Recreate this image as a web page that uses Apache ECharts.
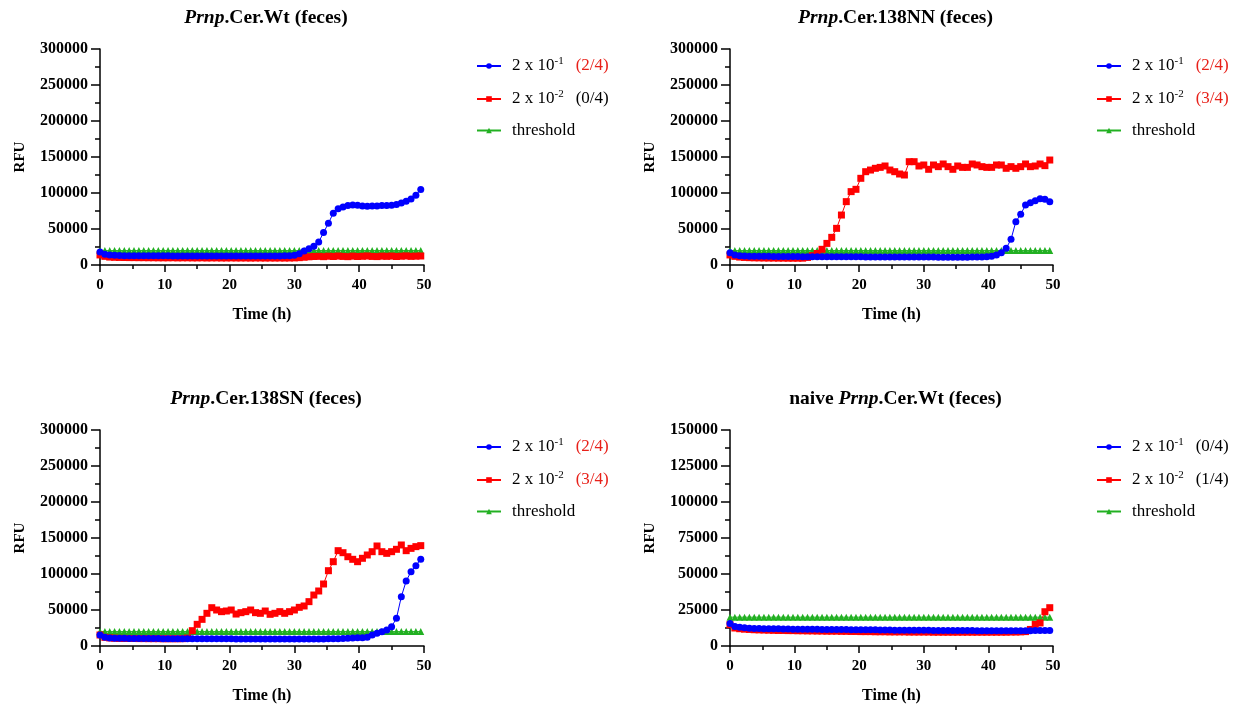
<!DOCTYPE html>
<html>
<head>
<meta charset="utf-8">
<script src="https://cdn.jsdelivr.net/npm/echarts@6/dist/echarts.min.js"></script>
<style>
  html, body { margin: 0; padding: 0; background: #fff; }
  #chart { width: 1252px; height: 708px; }
</style>
</head>
<body>
<div id="chart"></div>
<script>
// time of each reading (h), every 45 min
var times = [0, 0.75, 1.5, 2.25, 3, 3.75, 4.5, 5.25, 6, 6.75, 7.5, 8.25, 9, 9.75, 10.5, 11.25, 12, 12.75, 13.5, 14.25,
    15, 15.75, 16.5, 17.25, 18, 18.75, 19.5, 20.25, 21, 21.75, 22.5, 23.25, 24, 24.75, 25.5, 26.25, 27, 27.75, 28.5, 29.25,
    30, 30.75, 31.5, 32.25, 33, 33.75, 34.5, 35.25, 36, 36.75, 37.5, 38.25, 39, 39.75, 40.5, 41.25, 42, 42.75, 43.5, 44.25,
    45, 45.75, 46.5, 47.25, 48, 48.75, 49.5];

// Prnp.Cer.Wt
var wtBlue = [18000, 15000, 14000, 13500, 13200, 13000, 13000, 12900, 12900, 12800,
    12800, 12800, 12700, 12700, 12700, 12600, 12600, 12600, 12600, 12500,
    12500, 12500, 12500, 12500, 12400, 12400, 12400, 12400, 12400, 12400,
    12400, 12400, 12400, 12400, 12500, 12500, 12500, 12600, 12700, 12900,
    13500, 15500, 19400, 22700, 26000, 32000, 45000, 58000, 72000, 78000,
    80500, 82500, 83500, 83000, 82000, 81500, 82000, 82000, 82500, 82500,
    83000, 84000, 86000, 88500, 91500, 97000, 105000];
var wtRed = [14000, 12000, 11000, 10700, 10500, 10400, 10300, 10300, 10200, 10200,
    10100, 10100, 10000, 10000, 10000, 10100, 9900, 10000, 10000, 9900,
    9900, 10000, 9800, 9900, 9900, 9800, 9800, 9900, 9800, 9800,
    9800, 9700, 9800, 9800, 9700, 9800, 9700, 9800, 9700, 9800,
    9900, 10200, 10800, 11400, 11800, 12000, 11600, 12200, 11800, 12400,
    11900, 11600, 12300, 11800, 12100, 12500, 11900, 11700, 12300, 12000,
    12400, 11800, 12200, 12600, 12000, 12300, 12500];

// Prnp.Cer.138NN
var nnBlue = [17100, 13900, 12800, 12500, 12300, 12200, 12100, 12000, 12000, 11900,
    11900, 11800, 11800, 11700, 11700, 11600, 11600, 11600, 11500, 11500,
    11500, 11400, 11400, 11400, 11300, 11300, 11300, 11300, 11200, 11200,
    11200, 11200, 11200, 11100, 11100, 11100, 11100, 11000, 11000, 11000,
    11000, 11000, 11000, 10900, 10900, 10900, 10900, 10900, 10900, 10900,
    11000, 11000, 11100, 11400, 12000, 13900, 17100, 23100, 35600, 60200,
    70400, 83300, 86600, 89400, 92100, 91200, 88000];
var nnRed = [14000, 12000, 11000, 10500, 10200, 10000, 9900, 9800, 9700, 9700,
    9600, 9600, 9500, 9500, 9500, 9500, 10500, 13000, 16000, 21800,
    30000, 38400, 50900, 69400, 88000, 101900, 105100, 120400, 129600, 131900,
    134300, 135600, 137500, 131900, 129600, 126400, 125000, 143500, 143500, 137500,
    138900, 132900, 138900, 136600, 140300, 136600, 132900, 137500, 135600, 135600,
    140300, 138900, 136600, 135600, 135600, 138900, 138900, 134300, 136600, 134300,
    136600, 140300, 136600, 137500, 140300, 138000, 145800];

// Prnp.Cer.138SN
var snBlue = [15300, 12000, 11200, 10900, 10700, 10600, 10500, 10500, 10400, 10400,
    10300, 10300, 10300, 10200, 10200, 10200, 10100, 10100, 10100, 10000,
    10000, 10000, 10000, 9900, 9900, 9900, 9900, 9900, 9800, 9800,
    9800, 9800, 9800, 9800, 9800, 9700, 9700, 9700, 9700, 9700,
    9700, 9700, 9700, 9700, 9700, 9800, 9800, 9900, 10000, 10200,
    10400, 10700, 11000, 11300, 11600, 12000, 15300, 17600, 19900, 22200,
    26900, 38400, 68500, 90300, 103200, 111600, 120400];
var snRed = [15300, 12000, 11200, 10800, 10600, 10500, 10400, 10400, 10300, 10300,
    10200, 10200, 10200, 10100, 10100, 10100, 10100, 10200, 11000, 21300,
    30100, 37000, 45400, 53200, 50000, 47700, 48600, 50000, 44400, 46300,
    47700, 50000, 46300, 45400, 48600, 44000, 45400, 47700, 45400, 47700,
    50000, 53700, 55600, 61600, 70800, 76400, 86100, 104600, 117100, 132400,
    129600, 124000, 120400, 117100, 121800, 126400, 131000, 138900, 131000, 128700,
    131000, 134300, 140300, 132400, 135600, 138000, 139400];

// naive Prnp.Cer.Wt
var naiveBlue = [15700, 13500, 13000, 12600, 12300, 12200, 12100, 12000, 12000, 11900,
    11900, 11800, 11800, 11700, 11700, 11700, 11600, 11600, 11600, 11500,
    11500, 11500, 11400, 11400, 11400, 11300, 11300, 11300, 11200, 11200,
    11200, 11100, 11100, 11100, 11000, 11000, 11000, 11000, 10900, 10900,
    10900, 10900, 10800, 10800, 10800, 10800, 10700, 10700, 10700, 10700,
    10700, 10600, 10600, 10600, 10600, 10600, 10600, 10600, 10600, 10600,
    10600, 10600, 10600, 10700, 10700, 10700, 10700];
var naiveRed = [14800, 12500, 12000, 11700, 11500, 11300, 11200, 11100, 11000, 10900,
    10800, 10800, 10700, 10700, 10600, 10600, 10500, 10500, 10400, 10400,
    10300, 10300, 10300, 10200, 10200, 10100, 10100, 10000, 10000, 10000,
    9900, 9900, 9900, 9800, 9800, 9800, 9800, 9700, 9700, 9700,
    9700, 9700, 9600, 9600, 9600, 9600, 9600, 9600, 9600, 9600,
    9600, 9600, 9600, 9600, 9600, 9600, 9600, 9600, 9700, 9700,
    9800, 10000, 11500, 15000, 16000, 23800, 26600];

var threshold = [20000, 20000, 20000, 20000, 20000, 20000, 20000, 20000, 20000, 20000,
    20000, 20000, 20000, 20000, 20000, 20000, 20000, 20000, 20000, 20000,
    20000, 20000, 20000, 20000, 20000, 20000, 20000, 20000, 20000, 20000,
    20000, 20000, 20000, 20000, 20000, 20000, 20000, 20000, 20000, 20000,
    20000, 20000, 20000, 20000, 20000, 20000, 20000, 20000, 20000, 20000,
    20000, 20000, 20000, 20000, 20000, 20000, 20000, 20000, 20000, 20000,
    20000, 20000, 20000, 20000, 20000, 20000, 20000];

var panelTitles = [
    ['', 'Prnp', '.Cer.Wt (feces)'],
    ['', 'Prnp', '.Cer.138NN (feces)'],
    ['', 'Prnp', '.Cer.138SN (feces)'],
    ['naive ', 'Prnp', '.Cer.Wt (feces)']
];
var yMaxes = [300000, 300000, 300000, 150000];
var yIntervals = [50000, 50000, 50000, 25000];
// positive wells per dilution, red when positive
var wellCounts = [['(2/4)', '(0/4)'], ['(2/4)', '(3/4)'], ['(2/4)', '(3/4)'], ['(0/4)', '(1/4)']];
var wellPositive = [[true, false], [true, true], [true, true], [false, false]];

var blueData = [wtBlue, nnBlue, snBlue, naiveBlue];
var redData = [wtRed, nnRed, snRed, naiveRed];

var FONT = '"Liberation Serif", "Times New Roman", serif';
var grids = [
    {left: 100, top: 49, width: 324, height: 216},
    {left: 730, top: 49, width: 323, height: 216},
    {left: 100, top: 430, width: 324, height: 216},
    {left: 730, top: 430, width: 323, height: 216}
];
var legendPos = [[471, 51], [1091, 51], [471, 432], [1091, 432]];

function pairs(vals) {
    return times.map(function (t, i) { return [t, vals[i]]; });
}

var myChart = echarts.init(document.getElementById('chart'));
var option = {
    backgroundColor: '#fff',
    animation: false,
    title: [], grid: grids, xAxis: [], yAxis: [], legend: [], series: []
};
var labelMap = {};

for (var p = 0; p < 4; p++) {
    var g = grids[p];
    var tt = panelTitles[p];
    option.title.push({
        text: (tt[0] ? '{b|' + tt[0] + '}' : '') + '{i|' + tt[1] + '}{b|' + tt[2] + '}',
        left: g.left + g.width / 2 - 1, top: g.top - 46, textAlign: 'center',
        textStyle: {
            rich: {
                b: {fontFamily: FONT, fontWeight: 'bold', fontSize: 19.5, color: '#000'},
                i: {fontFamily: FONT, fontWeight: 'bold', fontStyle: 'italic', fontSize: 19.5, color: '#000'}
            }
        }
    });
    option.xAxis.push({
        gridIndex: p, type: 'value', min: 0, max: 50, interval: 10,
        name: 'Time (h)', nameLocation: 'middle', nameGap: 42,
        nameTextStyle: {fontFamily: FONT, fontWeight: 'bold', fontSize: 16, color: '#000'},
        axisLine: {lineStyle: {color: '#000', width: 1.5}},
        axisTick: {length: 7, lineStyle: {color: '#000', width: 1.5}},
        minorTick: {show: true, splitNumber: 2, length: 4, lineStyle: {color: '#000', width: 1.5}},
        axisLabel: {fontFamily: FONT, fontWeight: 'bold', fontSize: 15, color: '#000', margin: 13},
        splitLine: {show: false}
    });
    option.yAxis.push({
        gridIndex: p, type: 'value', min: 0, max: yMaxes[p], interval: yIntervals[p],
        name: 'RFU', nameLocation: 'middle', nameGap: 72,
        nameTextStyle: {fontFamily: FONT, fontWeight: 'bold', fontSize: 15, color: '#000'},
        axisLine: {show: true, lineStyle: {color: '#000', width: 1.5}},
        axisTick: {show: true, length: 9, lineStyle: {color: '#000', width: 1.5}},
        minorTick: {show: true, splitNumber: 2, length: 5, lineStyle: {color: '#000', width: 1.5}},
        axisLabel: {
            fontFamily: FONT, fontWeight: 'bold', fontSize: 16, color: '#000', margin: 12,
            formatter: function (v) { return String(v); }
        },
        splitLine: {show: false}
    });

    var nb = 'b' + p, nr = 'r' + p, nt = 't' + p;
    labelMap[nb] = '{n|2 x 10}{s|-1}{g|}{' + (wellPositive[p][0] ? 'r' : 'k') + '|' + wellCounts[p][0] + '}';
    labelMap[nr] = '{n|2 x 10}{s|-2}{g|}{' + (wellPositive[p][1] ? 'r' : 'k') + '|' + wellCounts[p][1] + '}';
    labelMap[nt] = '{n|threshold}';

    option.legend.push({
        data: [nb, nr, nt], orient: 'vertical',
        left: legendPos[p][0], top: legendPos[p][1],
        itemWidth: 24, itemHeight: 7, itemGap: 14.5,
        selectedMode: false,
        formatter: function (name) { return labelMap[name]; },
        textStyle: {
            padding: [0, 0, 0, 6],
            rich: {
                n: {fontFamily: FONT, fontSize: 17, color: '#000', lineHeight: 20},
                s: {fontFamily: FONT, fontSize: 11, color: '#000', verticalAlign: 'top', lineHeight: 12},
                g: {width: 12},
                r: {fontFamily: FONT, fontSize: 17, color: '#e8211a', lineHeight: 20},
                k: {fontFamily: FONT, fontSize: 17, color: '#000', lineHeight: 20}
            }
        }
    });

    option.series.push({
        name: nt, type: 'line', xAxisIndex: p, yAxisIndex: p,
        data: pairs(threshold), symbol: 'triangle', symbolSize: 7,
        itemStyle: {color: '#22b022'}, lineStyle: {color: '#22b022', width: 1}
    });
    option.series.push({
        name: nr, type: 'line', xAxisIndex: p, yAxisIndex: p,
        data: pairs(redData[p]), symbol: 'rect', symbolSize: 7,
        itemStyle: {color: '#ff0000'}, lineStyle: {color: '#ff0000', width: 1}
    });
    option.series.push({
        name: nb, type: 'line', xAxisIndex: p, yAxisIndex: p,
        data: pairs(blueData[p]), symbol: 'circle', symbolSize: 7,
        itemStyle: {color: '#0000ff'}, lineStyle: {color: '#0000ff', width: 1}
    });
}

myChart.setOption(option);
</script>
</body>
</html>
